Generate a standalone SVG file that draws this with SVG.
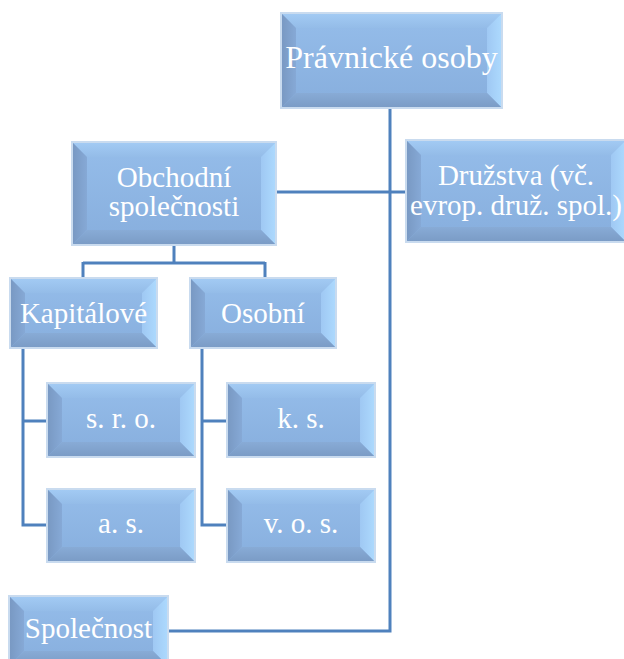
<svg xmlns="http://www.w3.org/2000/svg" width="624" height="659" viewBox="0 0 624 659">
<defs>
<linearGradient id="gf" x1="0" y1="0" x2="0" y2="1"><stop offset="0" stop-color="#95bdea"/><stop offset="1" stop-color="#87aedd"/></linearGradient>
<linearGradient id="gl" x1="0" y1="0" x2="1" y2="0"><stop offset="0" stop-color="#7898c2"/><stop offset="1" stop-color="#86a9d6"/></linearGradient>
<linearGradient id="gr" x1="0" y1="0" x2="1" y2="0"><stop offset="0" stop-color="#9fc8f3"/><stop offset="1" stop-color="#addafe"/></linearGradient>
<linearGradient id="gt" x1="0" y1="0" x2="0" y2="1"><stop offset="0" stop-color="#a3cbf4"/><stop offset="1" stop-color="#94bce8"/></linearGradient>
<linearGradient id="gb" x1="0" y1="0" x2="0" y2="1"><stop offset="0" stop-color="#88abd6"/><stop offset="1" stop-color="#7a9bc5"/></linearGradient>
</defs>
<style>
.face{fill:url(#gf)}
.bt{fill:url(#gt)}
.bl{fill:url(#gl)}
.br{fill:url(#gr)}
.bb{fill:url(#gb)}
.bd{fill:none;stroke:#c9dbef;stroke-width:2}
.t{font-family:"Liberation Serif","Times New Roman",serif;font-size:29px;fill:#ffffff;text-anchor:middle}
.conn{fill:none;stroke:#4f81bd;stroke-width:3}
</style>
<g id="connectors">
<path class="conn" d="M390,108 V631 H168"/>
<path class="conn" d="M276,192 H406"/>
<path class="conn" d="M174,245 V263 M83,263 H265 M83,262 V278 M265,262 V278"/>
<path class="conn" d="M23,348 V525 H47 M23,421 H47"/>
<path class="conn" d="M202,348 V525 H227 M202,421 H227"/>
</g>
<g id="pravnicke" transform="translate(281,13)">
<rect class="face" width="221" height="95"/>
<polygon class="bt" points="0,0 221,0 206,15 15,15"/>
<polygon class="bl" points="0,0 15,15 15,80 0,95"/>
<polygon class="br" points="221,0 221,95 206,80 206,15"/>
<polygon class="bb" points="0,95 15,80 206,80 221,95"/>
<rect class="bd" width="221" height="95"/>
<text class="t" x="110.5" y="55" style="font-size:32px">Právnické osoby</text>
</g>
<g id="obchodni" transform="translate(72,142)">
<rect class="face" width="204" height="103"/>
<polygon class="bt" points="0,0 204,0 189,15 15,15"/>
<polygon class="bl" points="0,0 15,15 15,88 0,103"/>
<polygon class="br" points="204,0 204,103 189,88 189,15"/>
<polygon class="bb" points="0,103 15,88 189,88 204,103"/>
<rect class="bd" width="204" height="103"/>
<text class="t" x="102" y="45">Obchodní</text>
<text class="t" x="102" y="74">společnosti</text>
</g>
<g id="druzstva" transform="translate(406,140)">
<rect class="face" width="220" height="102"/>
<polygon class="bt" points="0,0 220,0 205,15 15,15"/>
<polygon class="bl" points="0,0 15,15 15,87 0,102"/>
<polygon class="br" points="220,0 220,102 205,87 205,15"/>
<polygon class="bb" points="0,102 15,87 205,87 220,102"/>
<rect class="bd" width="220" height="102"/>
<text class="t" x="110" y="45">Družstva (vč.</text>
<text class="t" x="110" y="75">evrop. druž. spol.)</text>
</g>
<g id="kapitalove" transform="translate(10,278)">
<rect class="face" width="147" height="70"/>
<polygon class="bt" points="0,0 147,0 132,15 15,15"/>
<polygon class="bl" points="0,0 15,15 15,55 0,70"/>
<polygon class="br" points="147,0 147,70 132,55 132,15"/>
<polygon class="bb" points="0,70 15,55 132,55 147,70"/>
<rect class="bd" width="147" height="70"/>
<text class="t" x="73.5" y="45">Kapitálové</text>
</g>
<g id="osobni" transform="translate(190,278)">
<rect class="face" width="146" height="70"/>
<polygon class="bt" points="0,0 146,0 131,15 15,15"/>
<polygon class="bl" points="0,0 15,15 15,55 0,70"/>
<polygon class="br" points="146,0 146,70 131,55 131,15"/>
<polygon class="bb" points="0,70 15,55 131,55 146,70"/>
<rect class="bd" width="146" height="70"/>
<text class="t" x="73" y="45">Osobní</text>
</g>
<g id="sro" transform="translate(47,383)">
<rect class="face" width="148" height="74"/>
<polygon class="bt" points="0,0 148,0 133,15 15,15"/>
<polygon class="bl" points="0,0 15,15 15,59 0,74"/>
<polygon class="br" points="148,0 148,74 133,59 133,15"/>
<polygon class="bb" points="0,74 15,59 133,59 148,74"/>
<rect class="bd" width="148" height="74"/>
<text class="t" x="74" y="45">s. r. o.</text>
</g>
<g id="as" transform="translate(47,489)">
<rect class="face" width="148" height="73"/>
<polygon class="bt" points="0,0 148,0 133,15 15,15"/>
<polygon class="bl" points="0,0 15,15 15,58 0,73"/>
<polygon class="br" points="148,0 148,73 133,58 133,15"/>
<polygon class="bb" points="0,73 15,58 133,58 148,73"/>
<rect class="bd" width="148" height="73"/>
<text class="t" x="74" y="44">a. s.</text>
</g>
<g id="ks" transform="translate(227,383)">
<rect class="face" width="148" height="74"/>
<polygon class="bt" points="0,0 148,0 133,15 15,15"/>
<polygon class="bl" points="0,0 15,15 15,59 0,74"/>
<polygon class="br" points="148,0 148,74 133,59 133,15"/>
<polygon class="bb" points="0,74 15,59 133,59 148,74"/>
<rect class="bd" width="148" height="74"/>
<text class="t" x="74" y="45">k. s.</text>
</g>
<g id="vos" transform="translate(227,489)">
<rect class="face" width="148" height="73"/>
<polygon class="bt" points="0,0 148,0 133,15 15,15"/>
<polygon class="bl" points="0,0 15,15 15,58 0,73"/>
<polygon class="br" points="148,0 148,73 133,58 133,15"/>
<polygon class="bb" points="0,73 15,58 133,58 148,73"/>
<rect class="bd" width="148" height="73"/>
<text class="t" x="74" y="44">v. o. s.</text>
</g>
<g id="spolecnost" transform="translate(9,596)">
<rect class="face" width="159" height="70"/>
<polygon class="bt" points="0,0 159,0 144,15 15,15"/>
<polygon class="bl" points="0,0 15,15 15,55 0,70"/>
<polygon class="br" points="159,0 159,70 144,55 144,15"/>
<polygon class="bb" points="0,70 15,55 144,55 159,70"/>
<rect class="bd" width="159" height="70"/>
<text class="t" x="79.5" y="42">Společnost</text>
</g>
</svg>
